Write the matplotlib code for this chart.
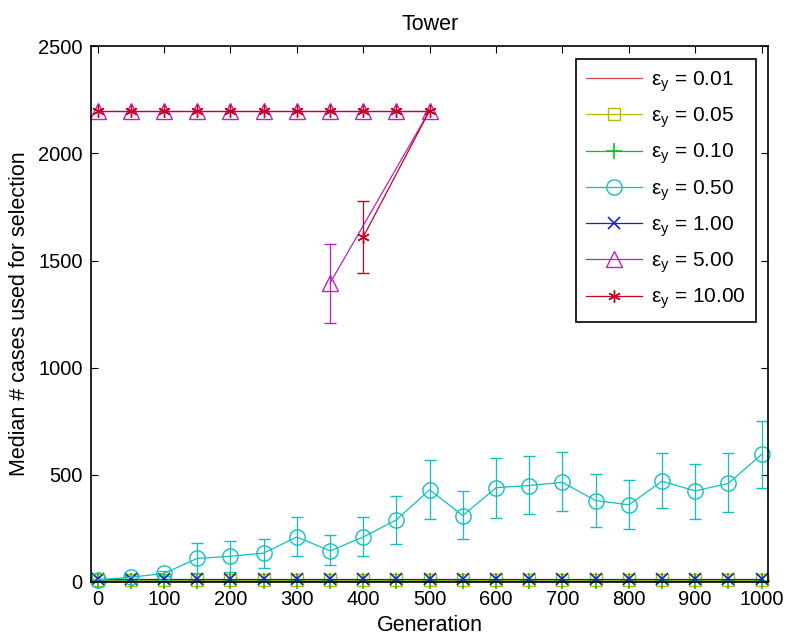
import matplotlib
matplotlib.use('Agg')
import matplotlib.pyplot as plt
from matplotlib.lines import Line2D
import numpy as np

plt.rcParams['font.family'] = ['Liberation Sans', 'DejaVu Sans']
plt.rcParams['mathtext.fontset'] = 'custom'
plt.rcParams['mathtext.rm'] = 'Liberation Sans'

# generations sampled
gens = np.arange(0, 1001, 50)
gens_top = np.arange(0, 501, 50)

# low series (flat, near zero)
eps001 = [10] * len(gens)
eps005 = [8] * len(gens)
eps010 = [5] * len(gens)
eps100 = [14] * len(gens)

# eps 0.50 median and error bar ends
eps050 = [10, 22, 40, 110, 120, 135, 210, 145, 210, 290, 430,
          310, 440, 450, 465, 380, 360, 470, 425, 460, 595]
eps050_lo = [5, 15, 30, 40, 45, 65, 120, 80, 120, 175, 295,
             200, 300, 315, 330, 255, 245, 345, 295, 325, 440]
eps050_hi = [15, 30, 50, 180, 190, 200, 305, 220, 305, 400, 570,
             425, 580, 590, 605, 505, 475, 600, 550, 600, 750]

# eps 5.00 / 10.00 : stuck at 2200 up to gen 500, plus one dip each
eps500 = [2200] * len(gens_top)
eps1000 = [2200] * len(gens_top)
dip500 = (350, 1395, 1207, 1576)     # gen, median, lo, hi
dip1000 = (400, 1610, 1441, 1778)

labels = ['0.01', '0.05', '0.10', '0.50', '1.00', '5.00', '10.00']

c001 = '#d84848'
c005 = '#b8b800'
c010 = '#10c010'
c050 = '#10c0c0'
c100 = '#2020c0'
c500 = '#c020c0'
c1000 = '#c80020'

fig = plt.figure(figsize=(7.92, 6.42), dpi=100)
ax = fig.add_axes([0.115, 0.0935, 0.855, 0.8345])

ms = 9
lw = 0.9
cap = 4.3
common = dict(linewidth=lw, clip_on=False)

ax.plot(gens, eps001, color=c001, **common)
ax.plot(gens, eps005, color=c005, marker='s', ms=ms, mfc='none', **common)
ax.plot(gens, eps010, color=c010, marker='+', ms=ms + 2, mew=1.2, **common)

err_lo = np.array(eps050) - np.array(eps050_lo)
err_hi = np.array(eps050_hi) - np.array(eps050)
ax.errorbar(gens, eps050, yerr=[err_lo, err_hi], color=c050, marker='o',
            ms=ms + 2, mfc='none', capsize=cap, elinewidth=lw, **common)

ax.plot(gens, eps100, color=c100, marker='x', ms=ms, mew=1.2, **common)

# eps 5.00
ax.plot(gens_top, eps500, color=c500, marker='^', ms=ms + 2, mfc='none', **common)
ax.errorbar([dip500[0]], [dip500[1]],
            yerr=[[dip500[1] - dip500[2]], [dip500[3] - dip500[1]]],
            color=c500, marker='^', ms=ms + 2, mfc='none', capsize=cap,
            elinewidth=lw, linestyle='none')
ax.plot([dip500[0], gens_top[-1]], [dip500[1], eps500[-1]], color=c500, linewidth=lw)

# eps 10.00
ax.plot(gens_top, eps1000, color=c1000, marker=(6, 2, 0), ms=ms, mew=1.0, **common)
ax.errorbar([dip1000[0]], [dip1000[1]],
            yerr=[[dip1000[1] - dip1000[2]], [dip1000[3] - dip1000[1]]],
            color=c1000, marker=(6, 2, 0), ms=ms, mew=1.0, capsize=cap,
            elinewidth=lw, linestyle='none')
ax.plot([dip1000[0], gens_top[-1]], [dip1000[1], eps1000[-1]], color=c1000, linewidth=lw)

ax.set_xlim(-10, 1010)
ax.set_ylim(0, 2500)
ax.set_xticks(np.arange(0, 1001, 100))
ax.set_yticks(np.arange(0, 2501, 500))
ax.tick_params(direction='in', top=True, right=True, length=5, labelsize=14.5,
               width=0.8, pad=6)
for s in ax.spines.values():
    s.set_linewidth(1.2)

ax.set_title('Tower', fontsize=15.5, pad=12)
ax.set_xlabel('Generation', fontsize=15.5, labelpad=4)
ax.set_ylabel('Median # cases used for selection', fontsize=15.5, labelpad=6)

# legend handles
handles = [
    Line2D([], [], color=c001, lw=lw),
    Line2D([], [], color=c005, lw=lw, marker='s', ms=ms, mfc='none'),
    Line2D([], [], color=c010, lw=lw, marker='+', ms=ms + 2, mew=1.2),
    Line2D([], [], color=c050, lw=lw, marker='o', ms=ms + 2, mfc='none'),
    Line2D([], [], color=c100, lw=lw, marker='x', ms=ms, mew=1.2),
    Line2D([], [], color=c500, lw=lw, marker='^', ms=ms + 2, mfc='none'),
    Line2D([], [], color=c1000, lw=lw, marker=(6, 2, 0), ms=ms, mew=1.0),
]
leg_labels = ['ε$_{\\mathrm{y}}$ = ' + l for l in labels]
leg = ax.legend(handles, leg_labels, loc='upper right', fontsize=15,
                handlelength=2.7, labelspacing=0.55, borderaxespad=0.6,
                fancybox=False, framealpha=1, edgecolor='black',
                borderpad=0.5, handletextpad=0.4)
leg.get_frame().set_linewidth(1.2)

fig.savefig('out.png', dpi=100)
